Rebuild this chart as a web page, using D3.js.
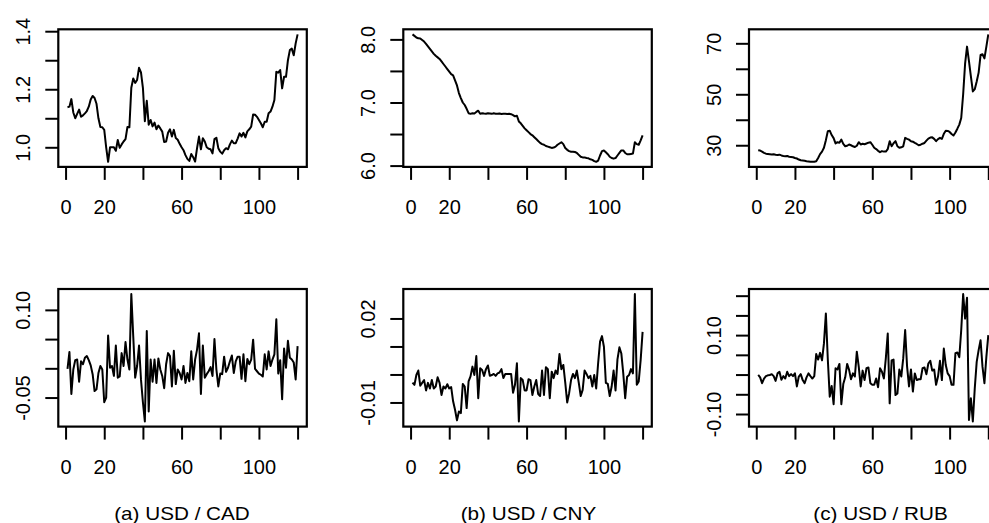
<!DOCTYPE html>
<html>
<head>
<meta charset="utf-8">
<script src="https://cdnjs.cloudflare.com/ajax/libs/d3/7.8.5/d3.min.js"></script>
<style>
  body { margin: 0; background: #fff; }
  text { font-family: "Liberation Sans", Arial, Helvetica, sans-serif; fill: #000; }
</style>
</head>
<body>
<div class="chart"></div>
<script>
// exchange rate levels, 120 periods
var cadLevel = [1.138,1.140,1.166,1.120,1.100,1.115,1.130,1.105,1.110,1.117,
  1.125,1.140,1.165,1.177,1.170,1.150,1.100,1.070,1.069,1.060,
  1.000,0.950,1.000,1.000,1.000,0.988,1.025,0.998,1.010,1.020,
  1.028,1.070,1.069,1.205,1.237,1.222,1.232,1.274,1.258,1.205,
  1.090,1.160,1.078,1.094,1.072,1.085,1.062,1.075,1.065,1.054,
  1.018,1.020,1.050,1.062,1.037,1.060,1.032,1.026,1.012,1.000,
  0.990,0.973,0.960,0.953,0.977,0.966,0.951,0.997,1.037,0.993,
  1.031,1.020,1.000,0.995,0.993,0.979,1.028,1.033,0.997,0.985,
  0.978,0.990,0.997,0.993,1.010,1.023,1.014,1.014,1.030,1.048,
  1.037,1.050,1.034,1.055,1.062,1.071,1.113,1.112,1.105,1.094,
  1.083,1.069,1.088,1.088,1.117,1.123,1.140,1.163,1.260,1.257,
  1.266,1.203,1.243,1.243,1.300,1.335,1.340,1.317,1.358,1.389];

var cnyLevel = [8.079,8.055,8.030,8.016,8.015,7.990,7.965,7.930,7.890,7.850,
  7.810,7.770,7.740,7.715,7.690,7.650,7.610,7.570,7.530,7.490,
  7.450,7.430,7.350,7.270,7.150,7.070,7.000,6.960,6.900,6.830,
  6.820,6.830,6.825,6.850,6.870,6.820,6.830,6.825,6.822,6.830,
  6.825,6.820,6.828,6.822,6.820,6.825,6.818,6.820,6.822,6.818,
  6.820,6.815,6.800,6.780,6.790,6.700,6.670,6.630,6.590,6.560,
  6.530,6.500,6.480,6.450,6.420,6.390,6.360,6.340,6.330,6.310,
  6.300,6.290,6.280,6.285,6.300,6.330,6.350,6.370,6.340,6.280,
  6.250,6.230,6.220,6.220,6.215,6.200,6.170,6.140,6.130,6.130,
  6.120,6.115,6.100,6.090,6.070,6.060,6.080,6.160,6.230,6.240,
  6.210,6.180,6.140,6.120,6.110,6.120,6.160,6.200,6.240,6.240,
  6.200,6.180,6.180,6.185,6.190,6.370,6.340,6.330,6.400,6.480];

var rubLevel = [28.0,27.9,27.5,27.0,26.7,26.6,26.5,26.4,26.5,26.3,
  26.2,26.3,26.0,25.8,25.7,25.8,25.5,25.4,25.3,25.0,
  24.8,24.4,24.1,24.0,23.9,23.7,23.6,23.5,23.5,23.5,
  23.7,25.0,26.5,27.5,29.0,32.0,35.5,35.7,34.0,32.8,
  30.7,31.2,31.0,32.2,30.5,29.6,29.8,30.3,30.0,29.6,
  29.3,29.8,31.2,30.3,30.6,30.4,30.7,31.0,31.2,30.2,
  29.0,28.5,27.8,27.3,27.7,27.5,27.5,28.5,31.6,29.6,
  30.8,31.6,29.6,29.0,29.2,29.6,32.9,32.5,32.2,31.6,
  31.4,30.9,30.5,30.0,30.2,30.6,30.9,31.8,32.6,33.0,
  33.1,32.5,31.6,32.4,32.9,32.5,34.5,35.7,35.6,35.2,
  34.4,33.8,35.0,36.5,38.1,40.7,50.0,62.0,68.7,63.0,
  57.0,51.1,52.0,55.0,58.5,65.4,65.7,64.1,68.7,73.5];

// returns
var cadReturn = [-0.001,0.028,-0.044,-0.002,0.014,0.015,-0.023,0.012,0.007,0.018,
  0.021,0.014,0.005,-0.010,-0.039,-0.036,-0.008,0.004,-0.002,-0.058,
  -0.050,0.056,0.001,0.004,-0.013,0.039,-0.016,-0.014,0.026,0.004,
  0.045,0.015,-0.002,0.127,0.055,-0.016,0.004,0.039,-0.019,-0.058,
  -0.091,0.064,-0.074,0.015,-0.023,0.015,-0.025,0.017,-0.002,-0.013,
  -0.034,0.007,0.026,0.021,-0.031,0.030,-0.027,-0.002,-0.008,-0.019,
  0.004,-0.025,-0.008,-0.022,0.029,-0.019,0.015,0.032,0.060,-0.044,
  0.039,-0.016,-0.010,-0.005,0.002,-0.013,0.050,-0.002,-0.031,-0.009,
  -0.010,0.020,-0.006,0.001,0.012,0.022,-0.008,0.012,0.020,0.020,
  -0.018,0.024,-0.022,0.016,0.007,0.015,0.049,-0.001,-0.005,-0.009,
  -0.011,-0.014,0.024,-0.002,0.029,0.004,0.015,0.024,0.084,-0.009,
  0.014,-0.053,0.034,0.001,0.047,0.018,0.015,0.010,-0.019,0.038];

var cnyReturn = [-0.0029,-0.0037,-0.0002,0.0014,-0.0040,-0.0030,-0.0020,-0.0057,-0.0030,-0.0050,
  -0.0020,-0.0050,-0.0043,-0.0010,-0.0030,-0.0073,-0.0043,-0.0050,-0.0035,-0.0050,
  -0.0045,-0.0096,-0.0126,-0.0164,-0.0132,-0.0138,-0.0034,-0.0043,-0.0120,-0.0025,
  -0.0007,0.0028,-0.0002,0.0066,-0.0085,0.0022,0.0016,-0.0005,0.0019,0.0032,
  -0.0005,-0.0002,0.0002,-0.0005,0.0004,0.0007,0.0019,-0.0013,0.0002,0.0002,
  0.0002,0.0002,-0.0065,-0.0037,0.0040,-0.0168,-0.0013,-0.0020,-0.0057,-0.0057,
  -0.0017,-0.0020,-0.0073,-0.0043,-0.0020,-0.0070,-0.0077,0.0014,-0.0073,0.0026,
  0.0019,-0.0085,0.0010,-0.0013,0.0014,0.0002,0.0073,0.0019,0.0034,-0.0029,
  -0.0100,-0.0067,-0.0020,0.0002,-0.0013,0.0014,-0.0030,-0.0077,-0.0055,0.0014,
  0.0002,-0.0013,-0.0005,-0.0043,-0.0002,-0.0050,0.0040,0.0117,0.0137,0.0099,
  -0.0030,-0.0034,-0.0077,-0.0043,0.0014,-0.0057,0.0054,0.0097,0.0075,0.0004,
  -0.0085,-0.0008,-0.0002,0.0019,0.0004,0.0287,-0.0037,-0.0025,0.0052,0.0152];

var rubReturn = [-0.001,-0.007,-0.022,-0.010,-0.004,-0.002,-0.001,0.001,-0.004,-0.016,
  0.003,0.007,-0.013,-0.004,-0.010,0.007,-0.004,0.001,-0.004,0.003,
  -0.030,-0.005,0.001,-0.014,-0.022,-0.007,0.003,-0.004,-0.010,-0.004,
  0.052,0.038,0.055,0.036,0.079,0.155,0.038,-0.056,-0.029,-0.075,
  0.016,0.013,0.027,-0.075,-0.024,-0.007,0.027,0.012,-0.012,0.003,
  -0.005,0.058,0.020,-0.030,0.010,-0.014,0.016,0.018,-0.022,-0.026,
  -0.026,-0.010,-0.032,0.016,0.007,-0.010,0.041,0.104,-0.073,0.036,
  0.038,-0.052,-0.048,0.013,-0.005,0.041,0.113,0.020,-0.030,0.013,
  -0.043,0.003,-0.014,-0.012,-0.012,0.016,0.018,0.001,0.028,0.035,
  0.010,0.013,-0.026,-0.005,0.035,-0.014,0.066,0.024,0.003,-0.004,
  -0.026,-0.026,0.054,0.056,0.044,0.113,0.204,0.142,0.195,-0.115,
  -0.060,-0.119,-0.035,0.032,0.062,0.087,0.020,-0.022,0.045,0.100];

var captions = ["(a) USD / CAD", "(b) USD / CNY", "(c) USD / RUB"];

// axis ticks (R drops labels that would overlap)
var xTicks = [0, 20, 40, 60, 80, 100, 120];
var xLabels = [0, 20, 60, 100];

var levelTicks = [[1.0, 1.1, 1.2, 1.3, 1.4], [6.0, 6.5, 7.0, 7.5, 8.0], [30, 40, 50, 60, 70]];
var levelLabels = [[1.0, 1.2, 1.4], [6.0, 7.0, 8.0], [30, 50, 70]];
var levelFormat = [".1f", ".1f", "d"];

var returnTicks = [[-0.05, 0, 0.05, 0.10], [-0.01, 0, 0.01, 0.02], [-0.10, -0.05, 0, 0.05, 0.10, 0.15, 0.20]];
var returnLabels = [[-0.05, 0.10], [-0.01, 0.02], [-0.10, 0.10]];
var returnFormat = [".2f", ".2f", ".2f"];

var levels = [cadLevel, cnyLevel, rubLevel];
var returns = [cadReturn, cnyReturn, rubReturn];

var svgWidth = 989;
var svgHeight = 523;

var svg = d3.select(".chart")
  .append("svg")
  .attr("width", svgWidth)
  .attr("height", svgHeight);

// panel geometry
var colLeft = [58.3, 403.3, 749];
var rowTop = [29.3, 289];
var boxW = 248.5;
var boxH = 137.6;
var captionX = [182, 528.5, 880.5];

// R style limits: data range padded 4% on both sides
function rlim(ext) {
  var r = ext[1] - ext[0];
  return [ext[0] - 0.04 * r, ext[1] + 0.04 * r];
}

function drawPanel(left, top, values, yTicks, yLabels, fmt) {
  var g = svg.append("g")
    .attr("transform", `translate(${left}, ${top})`);

  var period = values.map((d, i) => i + 1);

  var xScale = d3.scaleLinear()
    .domain(rlim(d3.extent(period)))
    .range([0, boxW]);

  var yScale = d3.scaleLinear()
    .domain(rlim(d3.extent(values)))
    .range([boxH, 0]);

  var f = d3.format(fmt);

  var xAxis = d3.axisBottom(xScale)
    .tickValues(xTicks)
    .tickSize(13)
    .tickSizeOuter(0)
    .tickFormat(d => xLabels.indexOf(d) >= 0 ? d : "");

  var yAxis = d3.axisLeft(yScale)
    .tickValues(yTicks)
    .tickSize(13)
    .tickSizeOuter(0)
    .tickFormat(d => yLabels.some(v => Math.abs(v - d) < 1e-9) ? f(d).replace("\u2212", "-") : "");

  var gx = g.append("g")
    .attr("transform", `translate(0, ${boxH})`)
    .call(xAxis);
  gx.select(".domain").remove();
  gx.selectAll("line").attr("stroke-width", 2);
  gx.selectAll("text")
    .attr("y", 47)
    .attr("dy", null)
    .attr("font-size", 20)
    .attr("font-family", null);
  gx.attr("font-size", null).attr("font-family", null);

  var gy = g.append("g").call(yAxis);
  gy.select(".domain").remove();
  gy.selectAll("line").attr("stroke-width", 2);
  gy.selectAll("text")
    .attr("x", null)
    .attr("dy", null)
    .attr("text-anchor", "middle")
    .attr("transform", "translate(-28.5, 0) rotate(-90)")
    .attr("font-size", 20);
  gy.attr("font-size", null).attr("font-family", null);

  // series line
  var line = d3.line()
    .x((d, i) => xScale(period[i]))
    .y(d => yScale(d));

  g.append("path")
    .datum(values)
    .attr("d", line)
    .attr("fill", "none")
    .attr("stroke", "#000")
    .attr("stroke-width", 2)
    .attr("stroke-linejoin", "round");

  // plot box
  g.append("rect")
    .attr("width", boxW)
    .attr("height", boxH)
    .attr("fill", "none")
    .attr("stroke", "#000")
    .attr("stroke-width", 2.2);
}

for (var i = 0; i < 3; i++) {
  drawPanel(colLeft[i], rowTop[0], levels[i], levelTicks[i], levelLabels[i], levelFormat[i]);
  drawPanel(colLeft[i], rowTop[1], returns[i], returnTicks[i], returnLabels[i], returnFormat[i]);

  svg.append("text")
    .attr("transform", `translate(${captionX[i]}, 519.5) scale(1.15, 1)`)
    .attr("text-anchor", "middle")
    .attr("font-size", 18)
    .text(captions[i]);
}
</script>
</body>
</html>
